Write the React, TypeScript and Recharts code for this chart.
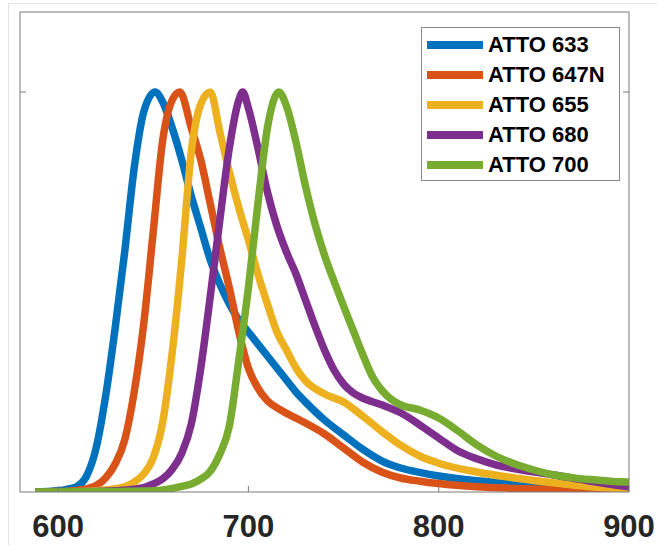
import React from "react";
import { LineChart, Line, XAxis, YAxis, Legend } from "recharts";

// Normalised emission spectra, [wavelength nm, intensity]
const atto633: [number, number][] = [
  [588, 0], [600, 0.003], [605, 0.007], [610, 0.014], [615, 0.04], [620, 0.11],
  [625, 0.24], [630, 0.41], [635, 0.6], [640, 0.81], [645, 0.95], [651, 1.0],
  [655, 0.975], [660, 0.91], [665, 0.83], [670, 0.74], [675, 0.66], [680, 0.58],
  [685, 0.52], [690, 0.47], [695, 0.43], [700, 0.4], [710, 0.34], [720, 0.28],
  [725, 0.25], [730, 0.225], [740, 0.18], [750, 0.143], [760, 0.107], [770, 0.078],
  [780, 0.06], [790, 0.049], [800, 0.04], [820, 0.028], [840, 0.02], [860, 0.014],
  [880, 0.01], [900, 0.007],
];

const atto647N: [number, number][] = [
  [588, 0], [600, 0.001], [610, 0.004], [615, 0.008], [620, 0.016], [625, 0.035],
  [630, 0.07], [635, 0.13], [640, 0.25], [645, 0.42], [650, 0.65], [655, 0.88],
  [660, 0.98], [664, 1.0], [670, 0.91], [675, 0.83], [680, 0.72], [685, 0.61],
  [690, 0.51], [695, 0.4], [700, 0.31], [705, 0.26], [710, 0.228], [717, 0.205],
  [727, 0.18], [740, 0.145], [750, 0.11], [760, 0.075], [770, 0.05], [780, 0.035],
  [790, 0.027], [800, 0.021], [820, 0.013], [840, 0.009], [860, 0.006], [880, 0.004],
  [900, 0.003],
];

const atto655: [number, number][] = [
  [588, 0], [610, 0.001], [620, 0.003], [630, 0.008], [635, 0.013], [640, 0.025],
  [645, 0.045], [650, 0.085], [655, 0.175], [660, 0.35], [665, 0.58], [670, 0.85],
  [675, 0.97], [680, 1.0], [685, 0.9], [690, 0.8], [695, 0.71], [700, 0.63],
  [705, 0.545], [710, 0.47], [715, 0.4], [720, 0.355], [725, 0.31], [730, 0.278],
  [740, 0.245], [750, 0.225], [760, 0.19], [770, 0.152], [780, 0.117], [790, 0.09],
  [800, 0.072], [820, 0.05], [840, 0.035], [860, 0.023], [880, 0.013], [900, 0.007],
];

const atto680: [number, number][] = [
  [588, 0], [620, 0.001], [630, 0.003], [640, 0.007], [645, 0.011], [650, 0.02],
  [655, 0.033], [660, 0.057], [665, 0.097], [670, 0.17], [675, 0.31], [680, 0.49],
  [685, 0.68], [690, 0.86], [695, 0.98], [697, 1.0], [700, 0.96], [705, 0.86],
  [710, 0.75], [715, 0.665], [720, 0.6], [725, 0.545], [730, 0.48], [735, 0.415],
  [740, 0.355], [745, 0.305], [750, 0.27], [755, 0.248], [760, 0.235], [770, 0.218],
  [780, 0.198], [790, 0.168], [800, 0.135], [810, 0.103], [820, 0.083], [830, 0.068],
  [840, 0.058], [860, 0.043], [880, 0.027], [900, 0.013],
];

const atto700: [number, number][] = [
  [588, 0], [630, 0.001], [640, 0.002], [650, 0.003], [655, 0.005], [660, 0.009],
  [665, 0.014], [670, 0.02], [675, 0.032], [680, 0.052], [685, 0.095], [690, 0.165],
  [695, 0.33], [700, 0.51], [705, 0.72], [710, 0.91], [716, 1.0], [720, 0.965],
  [725, 0.875], [730, 0.765], [735, 0.67], [740, 0.592], [745, 0.527], [750, 0.465],
  [755, 0.405], [760, 0.345], [765, 0.29], [770, 0.255], [775, 0.232], [780, 0.218],
  [790, 0.205], [800, 0.185], [810, 0.153], [820, 0.118], [830, 0.09], [840, 0.07],
  [850, 0.055], [860, 0.043], [870, 0.036], [880, 0.031], [890, 0.027], [900, 0.025],
];

const dyes = [
  { name: "ATTO 633", color: "#0072BD", points: atto633 },
  { name: "ATTO 647N", color: "#D95319", points: atto647N },
  { name: "ATTO 655", color: "#EDB120", points: atto655 },
  { name: "ATTO 680", color: "#7E2F8E", points: atto680 },
  { name: "ATTO 700", color: "#77AC30", points: atto700 },
];

const xTicks = [600, 700, 800, 900];
const xTopTicks = [600, 700, 800];
const yTicks = [1];

const axisGrey = "#7a7a7a";
const font = "'Liberation Sans', Arial, sans-serif";
const tickLen = 6;

const BottomTick = ({ x, y, payload }: any) => (
  <g>
    <line x1={x} x2={x} y1={y} y2={y - tickLen} stroke={axisGrey} strokeWidth={1} />
    <text x={x} y={y + 45} textAnchor="middle" fill="#262626" fontSize={31} fontWeight="bold" fontFamily={font}>
      {payload.value}
    </text>
  </g>
);

const TopTick = ({ x, y }: any) => (
  <line x1={x} x2={x} y1={y} y2={y + tickLen} stroke={axisGrey} strokeWidth={1} />
);

const LeftTick = ({ x, y }: any) => (
  <line x1={x} x2={x + tickLen} y1={y} y2={y} stroke={axisGrey} strokeWidth={1} />
);

const RightTick = ({ x, y }: any) => (
  <line x1={x} x2={x - tickLen} y1={y} y2={y} stroke={axisGrey} strokeWidth={1} />
);

const LegendBox = ({ payload }: any) => (
  <div
    style={{
      width: 192,
      border: "1px solid #8a8a8a",
      background: "#fff",
      padding: "2px 0 0 5px",
      boxSizing: "content-box",
      height: 150,
      fontFamily: font,
    }}
  >
    {(payload ?? []).map((item: any) => (
      <div key={item.value} style={{ display: "flex", alignItems: "center", height: 30 }}>
        <div style={{ width: 56, height: 8, background: item.color, marginRight: 5 }} />
        <span style={{ fontSize: 22, fontWeight: "bold", color: "#000", lineHeight: "30px" }}>{item.value}</span>
      </div>
    ))}
  </div>
);

export default function App() {
  return (
    <div style={{ position: "absolute", left: 0, top: 0, width: 657, height: 545, background: "#fff" }}>
      <div
        style={{
          position: "absolute",
          left: 8,
          top: 3,
          width: 649,
          height: 542,
          borderTop: "1px solid #e4e4e4",
          borderLeft: "1px solid #e4e4e4",
        }}
      />
      <LineChart width={657} height={545} margin={{ top: 11, right: 27, bottom: 0, left: 19 }}>
        <XAxis
          xAxisId="b"
          type="number"
          dataKey="w"
          domain={[580, 900]}
          allowDataOverflow
          ticks={xTicks}
          height={53}
          tickSize={0}
          tickMargin={0}
          tickLine={false}
          axisLine={{ stroke: axisGrey }}
          tick={<BottomTick />}
        />
        <XAxis
          xAxisId="t"
          orientation="top"
          type="number"
          domain={[580, 900]}
          allowDataOverflow
          ticks={xTopTicks}
          height={1}
          tickSize={0}
          tickMargin={0}
          tickLine={false}
          axisLine={{ stroke: axisGrey }}
          tick={<TopTick />}
        />
        <YAxis
          yAxisId="l"
          type="number"
          domain={[0, 1.2]}
          allowDataOverflow
          ticks={yTicks}
          width={1}
          tickSize={0}
          tickMargin={0}
          tickLine={false}
          axisLine={{ stroke: axisGrey }}
          tick={<LeftTick />}
        />
        <YAxis
          yAxisId="r"
          orientation="right"
          type="number"
          domain={[0, 1.2]}
          allowDataOverflow
          ticks={yTicks}
          width={1}
          tickSize={0}
          tickMargin={0}
          tickLine={false}
          axisLine={{ stroke: axisGrey }}
          tick={<RightTick />}
        />
        <Legend
          layout="horizontal"
          verticalAlign="middle"
          align="center"
          content={<LegendBox />}
          wrapperStyle={{ position: "absolute", left: 421, top: 27, width: "auto" }}
        />
        {dyes.map((d) => (
          <Line
            key={d.name}
            xAxisId="b"
            yAxisId="l"
            name={d.name}
            data={d.points.map(([w, v]) => ({ w, v }))}
            dataKey="v"
            type="monotone"
            stroke={d.color}
            strokeWidth={7.5}
            dot={false}
            activeDot={false}
            isAnimationActive={false}
          />
        ))}
      </LineChart>
    </div>
  );
}
